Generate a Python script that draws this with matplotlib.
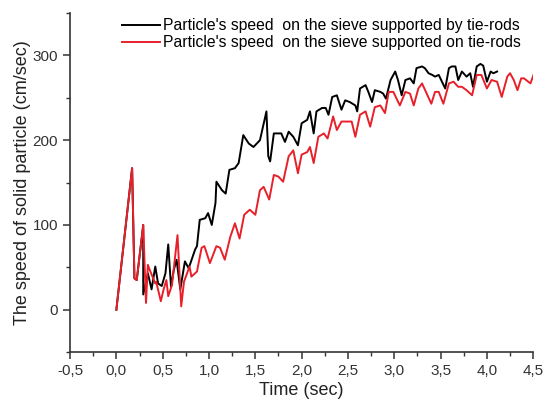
import matplotlib
matplotlib.use("Agg")
import matplotlib.pyplot as plt
from matplotlib.ticker import MultipleLocator, FuncFormatter

plt.rcParams['font.family'] = ['Liberation Sans', 'DejaVu Sans']

# Black: sieve supported by tie-rods
t_black = [0.0, 0.17, 0.195, 0.22, 0.29, 0.29, 0.34, 0.38, 0.42, 0.45, 0.49, 0.53, 0.56, 0.59,
           0.62, 0.65, 0.69, 0.74, 0.78, 0.80, 0.85, 0.87, 0.90, 0.96, 0.99, 1.03, 1.07, 1.08,
           1.14, 1.18, 1.22, 1.28, 1.32, 1.37, 1.43, 1.48, 1.55, 1.62, 1.64, 1.66, 1.70, 1.75,
           1.78, 1.82, 1.86, 1.91, 1.96, 2.00, 2.06, 2.09, 2.13, 2.16, 2.22, 2.26, 2.29, 2.33,
           2.38, 2.43, 2.47, 2.52, 2.58, 2.60, 2.63, 2.69, 2.72, 2.76, 2.79, 2.85, 2.88, 2.91,
           2.96, 3.01, 3.04, 3.08, 3.12, 3.17, 3.21, 3.24, 3.30, 3.33, 3.37, 3.41, 3.44, 3.48,
           3.55, 3.59, 3.62, 3.66, 3.69, 3.73, 3.78, 3.82, 3.85, 3.89, 3.93, 3.96, 4.00, 4.04,
           4.07, 4.11]
v_black = [0, 167, 37, 35, 100, 18, 43, 24, 51, 31, 28, 43, 77, 27,
           47, 59, 24, 57, 49, 55, 71, 75, 106, 108, 114, 100, 126, 151,
           141, 137, 165, 167, 173, 206, 196, 192, 200, 234, 181, 175, 208, 208,
           208, 198, 210, 204, 194, 220, 224, 234, 208, 234, 238, 238, 230, 251,
           253, 236, 247, 245, 241, 234, 261, 265, 257, 245, 259, 257, 255, 249,
           271, 281, 271, 253, 271, 273, 267, 285, 287, 285, 279, 277, 275, 277,
           261, 285, 287, 287, 271, 281, 275, 279, 263, 287, 290, 288, 269, 281,
           279, 281]

# Red: sieve supported on tie-rods
t_red = [0.0, 0.17, 0.195, 0.22, 0.29, 0.32, 0.34, 0.36, 0.42, 0.43, 0.48, 0.51, 0.54, 0.56,
         0.60, 0.66, 0.70, 0.73, 0.79, 0.81, 0.87, 0.92, 0.95, 1.01, 1.08, 1.12, 1.17, 1.23,
         1.28, 1.33, 1.38, 1.44, 1.50, 1.55, 1.59, 1.65, 1.70, 1.75, 1.80, 1.86, 1.91, 1.96,
         2.00, 2.06, 2.09, 2.13, 2.18, 2.24, 2.28, 2.34, 2.38, 2.43, 2.54, 2.58, 2.63, 2.69,
         2.74, 2.79, 2.85, 2.90, 2.94, 2.99, 3.06, 3.12, 3.17, 3.21, 3.26, 3.30, 3.35, 3.40,
         3.44, 3.48, 3.53, 3.59, 3.64, 3.69, 3.73, 3.78, 3.84, 3.89, 3.94, 4.00, 4.05, 4.11,
         4.16, 4.22, 4.25, 4.29, 4.33, 4.37, 4.40, 4.47, 4.51]
v_red = [0, 167, 37, 35, 100, 8, 53, 47, 31, 33, 10, 24, 35, 16,
         29, 88, 4, 33, 51, 39, 45, 73, 75, 55, 75, 73, 59, 86,
         102, 84, 112, 118, 112, 141, 145, 130, 159, 157, 151, 181, 188, 161,
         183, 186, 192, 173, 204, 208, 202, 228, 212, 222, 222, 204, 230, 234,
         216, 239, 241, 232, 257, 257, 241, 257, 255, 241, 261, 267, 255, 243,
         257, 257, 243, 267, 269, 263, 263, 259, 253, 277, 277, 261, 271, 269,
         251, 275, 279, 271, 259, 273, 273, 267, 279]

fig = plt.figure(figsize=(5.43, 4.08), dpi=100)
ax = fig.add_axes([0.129, 0.137, 0.853, 0.831])

ax.plot(t_black, v_black, color='black', lw=1.4,
        label="Particle's speed  on the sieve supported by tie-rods")
ax.plot(t_red, v_red, color='#e8202a', lw=1.4,
        label="Particle's speed  on the sieve supported on tie-rods")

ax.set_xlim(-0.5, 4.5)
ax.set_ylim(-50, 350)
ax.xaxis.set_major_locator(MultipleLocator(0.5))
ax.xaxis.set_minor_locator(MultipleLocator(0.25))
ax.yaxis.set_major_locator(MultipleLocator(100))
ax.yaxis.set_minor_locator(MultipleLocator(50))
ax.xaxis.set_major_formatter(FuncFormatter(lambda x, p: f"{x:.1f}".replace('.', ',')))
ax.yaxis.set_major_formatter(FuncFormatter(lambda y, p: f"{y:.0f}"))

for s in ['top', 'right']:
    ax.spines[s].set_visible(False)
for s in ['left', 'bottom']:
    ax.spines[s].set_color('#333333')
    ax.spines[s].set_linewidth(1.2)
ax.tick_params(which='major', direction='out', length=5, width=1.1, color='#333333',
               labelsize=11, labelcolor='#333333')
ax.tick_params(which='minor', direction='out', length=3, width=1.0, color='#333333')

ax.set_xlabel('Time (sec)', fontsize=13, color='#222222', labelpad=3)
ax.set_ylabel('The speed of solid particle (cm/sec)', fontsize=13, color='#222222', labelpad=1)

ax.legend(loc='upper left', bbox_to_anchor=(0.112, 0.985), frameon=False, fontsize=11.3,
          handlelength=2.4, handletextpad=0.2, labelspacing=0.12, borderaxespad=0,
          borderpad=0)

fig.savefig('out.png', dpi=100)
